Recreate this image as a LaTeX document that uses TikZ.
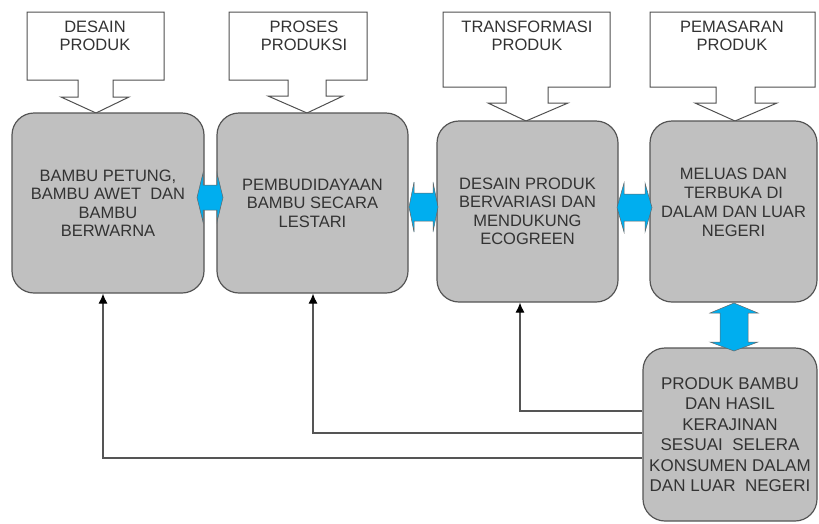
\documentclass[tikz,border=0pt]{standalone}
\usepackage{fontspec}
\setmainfont{Liberation Sans}
\usetikzlibrary{arrows.meta}
\definecolor{boxfill}{HTML}{C0C0C0}
\definecolor{boxline}{HTML}{555555}
\definecolor{txt}{HTML}{333333}
\definecolor{calline}{HTML}{505050}
\definecolor{arrowblue}{HTML}{00AEEF}
\definecolor{connline}{HTML}{555555}
\begin{document}
\begin{tikzpicture}[x=1pt,y=-1pt,
  box/.style={draw=boxline, fill=boxfill, line width=1.2pt, rounded corners=22pt,
    text=txt, align=center, font=\fontsize{16.5}{18.5}\selectfont, inner sep=0pt},
  callout/.style={draw=calline, line width=1pt, fill=white, line join=miter},
  ctext/.style={text=txt, align=center, font=\fontsize{16.5}{18}\selectfont, inner sep=0pt},
  barrow/.style={fill=arrowblue, draw=black!60, line width=0.5pt, line join=miter},
  conn/.style={draw=connline, line width=1.1pt, -{Latex[length=10pt,width=9pt,color=black]}}]
\useasboundingbox (0,0) rectangle (819,523);

% callouts
\draw[callout] (27,12) -- (164,12) -- (164,80) -- (113,80) -- (113,97) -- (129,97) -- (96,113)
  -- (61,97) -- (78,97) -- (78,80) -- (27,80) -- cycle;
\node[ctext] (c1) at (95,36) {DESAIN\\PRODUK};
\draw[callout] (229,12) -- (367,12) -- (367,80) -- (326,80) -- (326,96) -- (343,96) -- (307,113)
  -- (268,96) -- (288,96) -- (288,80) -- (229,80) -- cycle;
\node[ctext] (c2) at (304,36) {PROSES\\PRODUKSI};
\draw[callout] (443,12) -- (610,12) -- (610,87) -- (548,87) -- (548,103) -- (568,103) -- (526,121)
  -- (488,103) -- (506,103) -- (506,87) -- (443,87) -- cycle;
\node[ctext] (c3) at (527,36) {TRANSFORMASI\\PRODUK};
\draw[callout] (650,12) -- (815,12) -- (815,87) -- (755,87) -- (755,103) -- (777,103) -- (735,121)
  -- (695,103) -- (716,103) -- (716,87) -- (650,87) -- cycle;
\node[ctext] (c4) at (732,36) {PEMASARAN\\PRODUK};

% main boxes
\node[box, minimum width=192pt, minimum height=180pt] (b1) at (108,203)
  {BAMBU PETUNG,\\BAMBU AWET\ \ DAN\\BAMBU\\BERWARNA};
\node[box, minimum width=191pt, minimum height=180pt] (b2) at (312.5,203)
  {PEMBUDIDAYAAN\\BAMBU SECARA\\LESTARI};
\node[box, minimum width=181pt, minimum height=181pt] (b3) at (527.5,211.5)
  {DESAIN PRODUK\\BERVARIASI DAN\\MENDUKUNG\\ECOGREEN};
\node[box, minimum width=167pt, minimum height=181pt] (b4) at (733.5,211.5) {};
\node[ctext, font=\fontsize{16.5}{19}\selectfont] (b4t) at (733.5,202)
  {MELUAS DAN\\TERBUKA DI\\DALAM DAN LUAR\\NEGERI};
\node[box, minimum width=174pt, minimum height=173pt, font=\fontsize{17}{20.5}\selectfont] (b5) at (730,434.5)
  {PRODUK BAMBU\\DAN HASIL\\KERAJINAN\\SESUAI\ \ SELERA\\KONSUMEN DALAM\\DAN LUAR\ \ NEGERI};

% blue double arrows
\draw[barrow] (197,197.5) -- (203,173) -- (203,185) -- (217,185) -- (217,173) -- (223,197.5)
  -- (217,222) -- (217,210) -- (203,210) -- (203,222) -- cycle;
\draw[barrow] (409,207) -- (414,182) -- (414,193) -- (433,193) -- (433,182) -- (438,207)
  -- (433,232) -- (433,221) -- (414,221) -- (414,232) -- cycle;
\draw[barrow] (617,207.5) -- (624,183) -- (624,194) -- (645,194) -- (645,183) -- (652,207.5)
  -- (645,232) -- (645,221) -- (624,221) -- (624,232) -- cycle;
\draw[barrow] (734,303) -- (758,313) -- (748,313) -- (748,342) -- (758,342) -- (734,351)
  -- (710,342) -- (720,342) -- (720,313) -- (710,313) -- cycle;

% connectors
\draw[conn] ([yshift=23.5pt]b5.west) -| ([xshift=-7.5pt]b3.south);
\draw[conn] ([yshift=1.5pt]b5.west) -| ([xshift=0.5pt]b2.south);
\draw[conn] ([yshift=-23.5pt]b5.west) -| ([xshift=-5pt]b1.south);
\end{tikzpicture}
\end{document}
